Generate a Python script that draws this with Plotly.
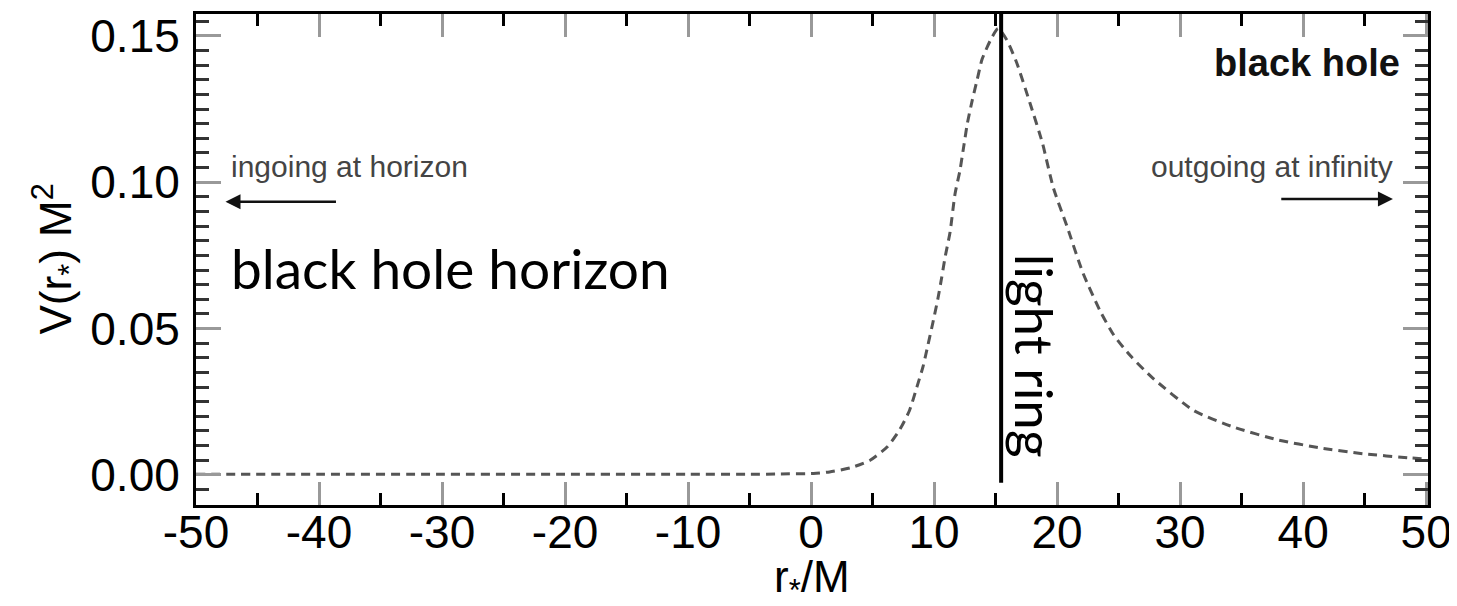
import plotly.graph_objects as go

# ---- data ----
r_star = [-50, -40, -30, -20, -10, -5, -2.5, 0.2, 1.5, 3.2, 4.8, 6.2, 7.2, 8.0, 8.6, 9.1, 9.5, 9.9,
          10.3, 10.6, 10.9, 11.3, 11.7, 12.1, 12.4, 12.7, 13.1, 13.5, 13.9, 14.6, 15.2, 15.9, 16.7,
          17.8, 18.8, 19.7, 20.8, 22.1, 23.5, 24.6, 26.0, 27.8, 31.1, 34.3, 37.9, 41.4, 44.9, 48.7, 50]
V = [0.0002, 0.0002, 0.0002, 0.0002, 0.0002, 0.0002, 0.0003, 0.0005, 0.001, 0.0024, 0.005, 0.0096,
     0.0154, 0.022, 0.030, 0.037, 0.0444, 0.052, 0.060, 0.067, 0.0745, 0.083, 0.096, 0.104, 0.112,
     0.120, 0.128, 0.135, 0.142, 0.1487, 0.1525, 0.1487, 0.141, 0.127, 0.1135, 0.098, 0.085, 0.069,
     0.056, 0.0478, 0.0405, 0.0330, 0.022, 0.0164, 0.012, 0.0092, 0.0072, 0.0058, 0.0054]

light_ring_x = 15.45
light_ring_y = [-0.0027, 0.1575]

x_tick_vals = [-50, -40, -30, -20, -10, 0, 10, 20, 30, 40, 50]
x_tick_text = ["-50", "-40", "-30", "-20", "-10", "0", "10", "20", "30", "40", "50"]
y_tick_vals = [0.00, 0.05, 0.10, 0.15]
y_tick_text = ["0.00", "0.05", "0.10", "0.15"]

HELV = "Liberation Sans, Arial, Helvetica, sans-serif"
GILL = "Lato, Gill Sans, sans-serif"

fig = go.Figure()
fig.add_trace(go.Scatter(x=r_star, y=V, mode="lines",
                         line=dict(color="#555555", width=3, dash="9px,6px", shape="spline", smoothing=0.6),
                         showlegend=False, hoverinfo="skip"))
fig.add_trace(go.Scatter(x=[light_ring_x, light_ring_x], y=light_ring_y, mode="lines",
                         line=dict(color="black", width=4), showlegend=False, hoverinfo="skip"))

axis_common = dict(showline=True, linewidth=3, linecolor="black", mirror="ticks", automargin=False,
                   ticks="inside", tickwidth=3, tickcolor="#999999", showgrid=False, zeroline=False,
                   tickfont=dict(family=HELV, size=46, color="black"))

fig.update_xaxes(range=[-50, 50.15], tickvals=x_tick_vals, ticktext=x_tick_text, ticklen=23,
                 minor=dict(dtick=5, tick0=0, ticks="inside", ticklen=12, tickwidth=2.5, tickcolor="black"),
                 ticklabelstandoff=-15, **axis_common)
fig.update_yaxes(range=[-0.0103, 0.1575], tickvals=y_tick_vals, ticktext=y_tick_text, ticklen=25,
                 minor=dict(dtick=0.005, tick0=0, ticks="inside", ticklen=13, tickwidth=2.5, tickcolor="#333333"),
                 ticklabelstandoff=4, **axis_common)

ann = []
# axis titles
ann.append(dict(text="r<sub>*</sub>/M", xref="paper", yref="paper", x=0.5, y=0, yshift=-75,
                xanchor="center", yanchor="middle", showarrow=False,
                font=dict(family=HELV, size=44, color="black")))
ann.append(dict(text="V(r<sub>*</sub>) M<sup>2</sup>", xref="paper", yref="paper", x=0, xshift=-140, y=0.5,
                xanchor="center", yanchor="middle", textangle=-90, showarrow=False,
                font=dict(family=HELV, size=44, color="black")))
# small labels
ann.append(dict(text="ingoing at horizon", x=-47.3, y=0.1055, xanchor="left", yanchor="middle",
                showarrow=False, font=dict(family=HELV, size=30, color="#444444")))
ann.append(dict(text="outgoing at infinity", x=47.5, y=0.1055, xanchor="right", yanchor="middle",
                showarrow=False, font=dict(family=HELV, size=30, color="#444444")))
ann.append(dict(text="<b>black hole</b>", x=48.0, y=0.1408, xanchor="right", yanchor="middle",
                showarrow=False, font=dict(family=HELV, size=38, color="#111111")))
# arrows
ann.append(dict(text="", x=-47.6, y=0.0933, ax=-38.5, ay=0.0933, axref="x", ayref="y",
                showarrow=True, arrowhead=2, arrowsize=1.2, arrowwidth=2.5, arrowcolor="#111111"))
ann.append(dict(text="", x=47.3, y=0.0943, ax=38.1, ay=0.0943, axref="x", ayref="y",
                showarrow=True, arrowhead=2, arrowsize=1.2, arrowwidth=2.5, arrowcolor="#111111"))
# big labels
ann.append(dict(text="black hole horizon", x=-47.3, y=0.0707, xanchor="left", yanchor="middle",
                showarrow=False, font=dict(family=GILL, size=55, color="black")))
ann.append(dict(text="light ring", x=18.2, y=0.0407, xanchor="center", yanchor="middle", textangle=90,
                showarrow=False, font=dict(family=GILL, size=53, color="black")))

# the page body adds an 8px offset, so margins are reduced by 8px on the top/left
fig.update_layout(width=1457, height=606, margin=dict(l=188, r=37, t=6, b=109),
                  paper_bgcolor="white", plot_bgcolor="white", annotations=ann)

fig.write_html("out.html")
